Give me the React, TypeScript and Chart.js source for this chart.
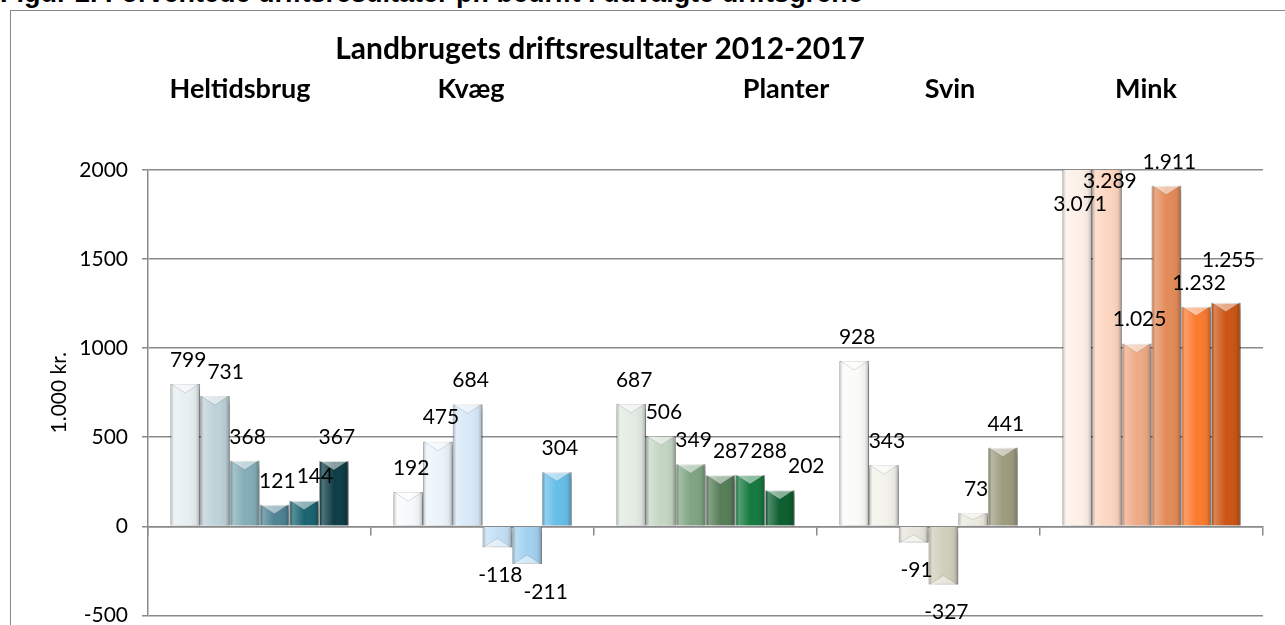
import { useEffect, useRef } from 'react';
import { Chart, registerables } from 'chart.js';

Chart.register(...registerables);

// ---- data ----
const categories = ['Heltidsbrug', 'Kvæg', 'Planter', 'Svin', 'Mink'];
const years = ['2012', '2013', '2014', '2015', '2016', '2017'];
const v2012 = [799, 192, 687, 928, 3071];
const v2013 = [731, 475, 506, 343, 3289];
const v2014 = [368, 684, 349, -91, 1025];
const v2015 = [121, -118, 287, -327, 1911];
const v2016 = [144, -211, 288, 73, 1232];
const v2017 = [367, 304, 202, 441, 1255];
const yMin = -500;
const yMax = 2000;
const yStep = 500;
const chartTitle = 'Landbrugets driftsresultater 2012-2017';
const yAxisTitle = '1.000 kr.';
const figureHeading = 'Figur 2. Forventede driftsresultater pr. bedrift i udvalgte driftsgrene';

// ---- styles ----
const palette = [
  ['#e7eff2', '#f7fafd', '#e3ebe3', '#fbfbf8', '#fdf0e8'],
  ['#bdd2d9', '#ecf4fb', '#c5d6c4', '#f3f3ec', '#fcd6bf'],
  ['#83adb8', '#d8e9f8', '#80a583', '#e6e6dc', '#eeaa86'],
  ['#4e8393', '#c4dff5', '#567d58', '#cfcfbb', '#e38b59'],
  ['#1a6471', '#a2d1f0', '#167a40', '#ebeadf', '#fb7b2f'],
  ['#0e3d46', '#65bee9', '#0c5f30', '#9e9c7e', '#cd5514'],
];
const headerCentersX = [229, 460, 775, 939, 1135];
const gridColor = '#8a8a8a';
const fontFamily = 'Lato, "Open Sans", sans-serif';
const labelFont = '21px ' + fontFamily;

const series = [v2012, v2013, v2014, v2015, v2016, v2017];

function fmt(v: number): string {
  const s = Math.abs(v).toString().replace(/\B(?=(\d{3})+(?!\d))/g, '.');
  return (v < 0 ? '-' : '') + s;
}

const bevelPlugin = {
  id: 'bevel',
  beforeDatasetDraw(chart: any) {
    const ctx = chart.ctx;
    ctx.save();
    ctx.shadowColor = 'rgba(0,0,0,0.35)';
    ctx.shadowBlur = 6;
    ctx.shadowOffsetX = 2;
    ctx.shadowOffsetY = 3;
  },
  afterDatasetDraw(chart: any, args: any) {
    const ctx = chart.ctx;
    ctx.restore();
    const area = chart.chartArea;
    const meta = args.meta;
    const data = chart.data.datasets[args.index].data as number[];
    ctx.save();
    ctx.beginPath();
    ctx.rect(area.left, area.top, area.right - area.left, area.bottom - area.top);
    ctx.clip();
    meta.data.forEach((el: any, j: number) => {
      const v = data[j];
      const left = el.x - el.width / 2;
      const right = el.x + el.width / 2;
      const top = Math.max(Math.min(el.y, el.base), area.top);
      const bottom = Math.max(el.y, el.base);
      const g = ctx.createLinearGradient(left, 0, right, 0);
      g.addColorStop(0, 'rgba(0,0,0,0.14)');
      g.addColorStop(0.12, 'rgba(255,255,255,0.28)');
      g.addColorStop(0.5, 'rgba(255,255,255,0.0)');
      g.addColorStop(0.86, 'rgba(0,0,0,0.05)');
      g.addColorStop(1, 'rgba(0,0,0,0.28)');
      ctx.fillStyle = g;
      ctx.fillRect(left, top, right - left, bottom - top);
      if (el.y >= area.top) {
        const dir = v >= 0 ? 1 : -1;
        const bh = Math.min(9, Math.abs(el.base - el.y) / 2);
        ctx.beginPath();
        ctx.moveTo(left + 1, el.y);
        ctx.lineTo(right - 1, el.y);
        ctx.lineTo(el.x, el.y + dir * bh);
        ctx.closePath();
        ctx.fillStyle = 'rgba(255,255,255,0.5)';
        ctx.fill();
        ctx.beginPath();
        ctx.moveTo(left + 1, el.y);
        ctx.lineTo(el.x, el.y + dir * bh);
        ctx.lineTo(right - 1, el.y);
        ctx.strokeStyle = 'rgba(0,0,0,0.12)';
        ctx.lineWidth = 1;
        ctx.stroke();
      }
    });
    ctx.restore();
  },
};

const labelPlugin = {
  id: 'valueLabels',
  afterDatasetsDraw(chart: any) {
    const ctx = chart.ctx;
    const area = chart.chartArea;
    ctx.save();
    ctx.font = labelFont;
    ctx.fillStyle = '#000';
    ctx.textAlign = 'center';
    ctx.textBaseline = 'middle';
    const h = 22;
    categories.forEach((_c, j) => {
      const placed: { l: number; r: number; t: number; b: number }[] = [];
      chart.data.datasets.forEach((ds: any, i: number) => {
        const el: any = chart.getDatasetMeta(i).data[j];
        const v = ds.data[j] as number;
        const text = fmt(v);
        const w = ctx.measureText(text).width;
        let y: number;
        if (v > yMax) y = area.top + 34;
        else if (v >= 0) y = el.y - 24;
        else y = el.y + 28;
        let x = el.x + 3;
        for (const p of placed) {
          const l = x - w / 2, r = x + w / 2, t = y - h / 2, b = y + h / 2;
          if (l < p.r && r > p.l && t < p.b && b > p.t) {
            const dx = p.r - l + 1;
            const dy = b - p.t + 1;
            if (dx <= dy) x += dx;
            else y -= dy;
          }
        }
        placed.push({ l: x - w / 2, r: x + w / 2, t: y - h / 2, b: y + h / 2 });
        ctx.fillText(text, x, y);
      });
    });
    ctx.restore();
  },
};

const titlePlugin = {
  id: 'titles',
  afterDraw(chart: any) {
    const ctx = chart.ctx;
    ctx.save();
    ctx.fillStyle = '#000';
    ctx.textAlign = 'center';
    ctx.textBaseline = 'alphabetic';
    ctx.font = 'bold 30px ' + fontFamily;
    ctx.fillText(chartTitle, 589, 48);
    ctx.font = 'bold 27px ' + fontFamily;
    categories.forEach((c, i) => ctx.fillText(c, headerCentersX[i], 87));
    ctx.restore();
  },
};

export default function App() {
  const ref = useRef<HTMLCanvasElement>(null);
  useEffect(() => {
    const canvas = ref.current;
    if (!canvas) return;
    const chart = new Chart(canvas, {
      type: 'bar',
      data: {
        labels: categories,
        datasets: years.map((y, i) => ({
          label: y,
          data: series[i],
          backgroundColor: palette[i],
          borderColor: 'rgba(0,0,0,0.18)',
          borderWidth: 1,
          categoryPercentage: 0.8,
          barPercentage: 1,
          clip: 0,
        })),
      },
      options: {
        animation: false,
        responsive: false,
        devicePixelRatio: 1,
        layout: { padding: { left: 0, top: 159, right: 22, bottom: 11 } },
        plugins: {
          legend: { display: false },
          tooltip: { enabled: false },
          title: { display: false },
        },
        scales: {
          x: {
            position: { y: 0 } as any,
            ticks: { display: false },
            grid: {
              drawOnChartArea: false,
              drawTicks: true,
              tickLength: 8,
              color: gridColor,
              lineWidth: 1.5,
              offset: true,
            },
            border: { display: true, color: gridColor, width: 1.5 },
          },
          y: {
            min: yMin,
            max: yMax,
            ticks: {
              stepSize: yStep,
              color: '#000',
              font: { family: fontFamily, size: 21 },
              padding: 14,
              callback: (v: any) => String(v),
            },
            grid: { color: gridColor, lineWidth: 1.5, tickLength: 6 },
            border: { display: true, color: gridColor, width: 1.5 },
            title: {
              display: true,
              text: yAxisTitle,
              color: '#000',
              font: { family: fontFamily, size: 21 },
              padding: { top: 36, bottom: 0 },
            },
            afterFit: (scale: any) => {
              scale.width = 137;
            },
          },
        },
      },
      plugins: [bevelPlugin, labelPlugin, titlePlugin],
    } as any);
    return () => chart.destroy();
  }, []);

  return (
    <div
      style={{
        position: 'fixed',
        left: 0,
        top: 0,
        width: 1285,
        height: 625,
        overflow: 'hidden',
        background: '#fff',
      }}
    >
      <div
        style={{
          position: 'absolute',
          left: 0,
          top: -20,
          whiteSpace: 'nowrap',
          font: 'bold 27px "Liberation Sans", Arial, sans-serif',
          lineHeight: '27px',
          color: '#000',
        }}
      >
        {figureHeading}
      </div>
      <div
        style={{
          position: 'absolute',
          left: 10,
          top: 10,
          width: 1400,
          height: 800,
          border: '1px solid #878787',
          boxSizing: 'border-box',
        }}
      />
      <canvas
        ref={ref}
        width={1274}
        height={631}
        style={{ position: 'absolute', left: 11, top: 11, width: 1274, height: 631 }}
      />
    </div>
  );
}
